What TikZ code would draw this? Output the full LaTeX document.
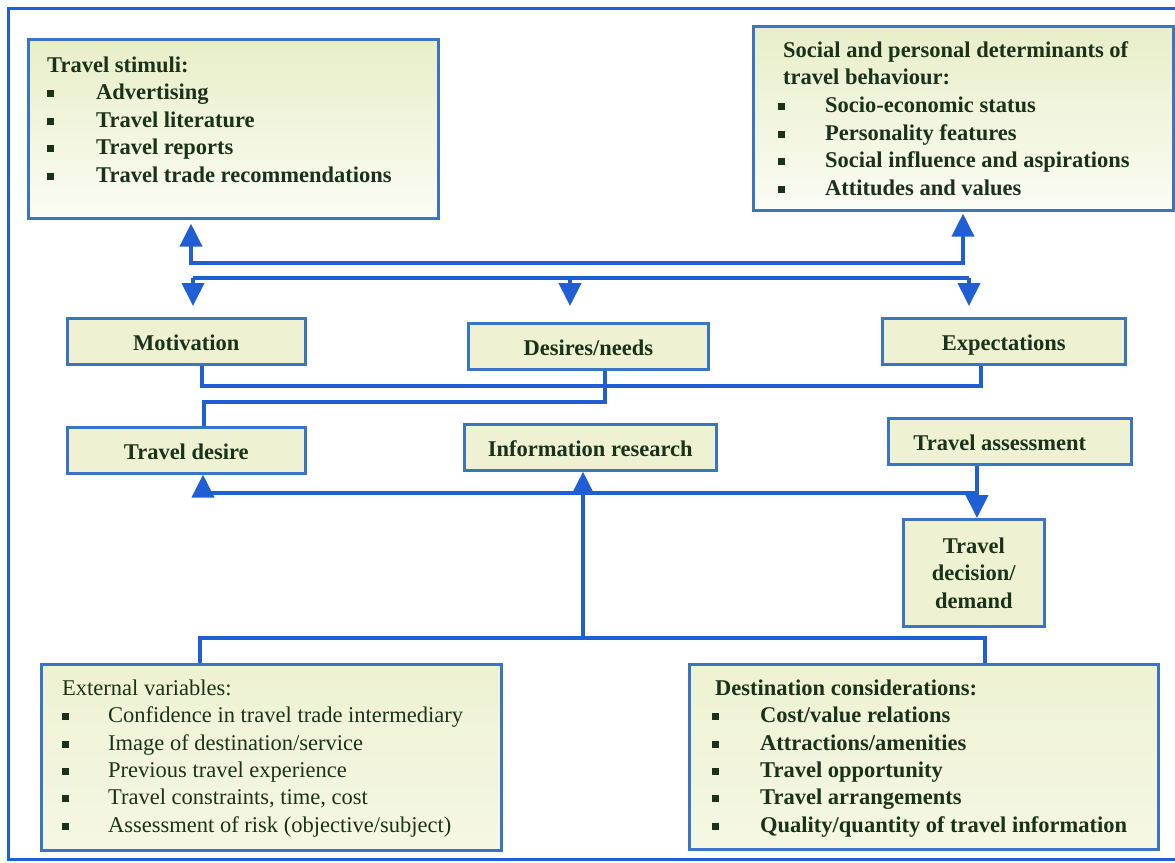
\documentclass[tikz,border=0pt]{standalone}
\usepackage{fontspec}
\setmainfont{Liberation Serif}
\usetikzlibrary{arrows.meta}
\definecolor{lineblue}{HTML}{1F5ED4}
\definecolor{boxblue}{HTML}{3A75C4}
\definecolor{boxfill}{HTML}{EEF2D2}
\definecolor{topfill}{HTML}{E8EEC8}
\definecolor{lowfill}{HTML}{FBFCF4}
\definecolor{txt}{HTML}{1A321A}
\newcommand{\bul}[1]{\makebox[#1][l]{\rule[2.5pt]{7pt}{7pt}}}
\tikzset{bigtri/.tip={Triangle[width=22pt,length=23pt]}}
\begin{document}
\begin{tikzpicture}[x=1pt,y=-1pt,
  box/.style={draw=boxblue,line width=2.6pt,fill=boxfill,inner sep=0pt,anchor=north west},
  listbox/.style={box,top color=topfill,bottom color=lowfill},
  lbl/.style={text=txt,font=\fontsize{22.5}{27.5}\selectfont\bfseries},
  one/.style={box,lbl,text height=19pt,text depth=0pt},
  listtxt/.style={text=txt,inner sep=0pt,align=left,anchor=north west},
  conn/.style={draw=lineblue,line width=4pt},
]
\useasboundingbox (0,0) rectangle (1175,862);
\draw[lineblue,line width=3pt] (1176,8) -- (8,8) -- (8,859) -- (1176,859);

% boxes
\node[listbox,minimum width=410pt,minimum height=179pt] (stim) at (27,38) {};
\node[listbox,minimum width=420pt,minimum height=184pt] (soc) at (752,25) {};
\node[one,minimum width=238pt,minimum height=46pt] (mot) at (66,317) {Motivation};
\node[one,minimum width=240pt,minimum height=46pt] (des) at (467,322) {Desires/needs};
\node[one,minimum width=243pt,minimum height=46pt] (exp) at (881,317) {Expectations};
\node[one,minimum width=238pt,minimum height=46pt] (td) at (66,426) {Travel desire};
\node[one,minimum width=252pt,minimum height=46pt] (ir) at (463,423) {Information research};
\node[one,minimum width=243pt,minimum height=46pt] (ta) at (887,417) {\hspace*{-20pt}Travel assessment};
\node[box,lbl,align=center,minimum width=141pt,minimum height=107pt] (dec) at (902,518) {Travel\\decision/\\demand};
\node[listbox,top color=boxfill,bottom color=boxfill!60!white,minimum width=460pt,minimum height=186pt] (ext) at (40,663) {};
\node[listbox,top color=boxfill,bottom color=boxfill!60!white,minimum width=469pt,minimum height=185pt] (dest) at (688,663) {};

% list texts
\node[listtxt,font=\fontsize{22.5}{27.5}\selectfont\bfseries] (stimT) at (47,52)
  {\rule{0pt}{20pt}Travel stimuli:\\
   \bul{49pt}Advertising\\
   \bul{49pt}Travel literature\\
   \bul{49pt}Travel reports\\
   \bul{49pt}Travel trade recommendations};
\node[listtxt,font=\fontsize{22.5}{27.6}\selectfont\bfseries] (socT) at (778,37)
  {\rule{0pt}{20pt}\hspace*{5pt}Social and personal determinants of\\
   \hspace*{5pt}travel behaviour:\\
   \bul{47pt}Socio-economic status\\
   \bul{47pt}Personality features\\
   \bul{47pt}Social influence and aspirations\\
   \bul{47pt}Attitudes and values};
\node[listtxt,font=\fontsize{22.5}{27.4}\selectfont] (extT) at (62,675)
  {\rule{0pt}{20pt}External variables:\\
   \bul{46pt}Confidence in travel trade intermediary\\
   \bul{46pt}Image of destination/service\\
   \bul{46pt}Previous travel experience\\
   \bul{46pt}Travel constraints, time, cost\\
   \bul{46pt}Assessment of risk (objective/subject)};
\node[listtxt,font=\fontsize{22.5}{27.4}\selectfont\bfseries] (destT) at (712,675)
  {\rule{0pt}{20pt}\hspace*{3pt}Destination considerations:\\
   \bul{48pt}Cost/value relations\\
   \bul{48pt}Attractions/amenities\\
   \bul{48pt}Travel opportunity\\
   \bul{48pt}Travel arrangements\\
   \bul{48pt}Quality/quantity of travel information};

% top connectors
\coordinate (uL) at (191,263);
\coordinate (uR) at (963,263);
\draw[conn,bigtri-bigtri,shorten <=4pt,shorten >=2pt] (uL |- stim.south) -- (uL) -- (uR) -- (uR |- soc.south);
\coordinate (dL) at (193,278);
\coordinate (dM) at (570,278);
\coordinate (dR) at (969,278);
\draw[conn] (dL) -- (dR);
\draw[conn,-bigtri,shorten >=11pt] (dL) -- (dL |- mot.north);
\draw[conn,-bigtri,shorten >=16pt] (dM) -- (dM |- des.north);
\draw[conn,-bigtri,shorten >=11pt] (dR) -- (dR |- exp.north);

% middle connectors
\coordinate (m1) at (202,386);
\coordinate (m2) at (981,386);
\draw[conn] (m1 |- mot.south) -- (m1) -- (m2) -- (m2 |- exp.south);
\coordinate (n1) at (605,402);
\coordinate (n2) at (204,402);
\draw[conn] (n1 |- des.south) -- (n1) -- (n2) -- (n2 |- td.north);

% lower connectors
\coordinate (b1) at (203,493);
\coordinate (b2) at (977,493);
\draw[conn] (b1) -- (b2);
\draw[conn,-bigtri] (b1) -- (b1 |- td.south);
\draw[conn,-bigtri] (ta.south -| b2) -- (b2 |- dec.north);
\coordinate (c1) at (200,638);
\coordinate (cM) at (583,638);
\coordinate (c2) at (985,638);
\draw[conn,-bigtri] (cM) -- (cM |- ir.south);
\draw[conn] (c1 |- ext.north) -- (c1) -- (c2) -- (c2 |- dest.north);
\end{tikzpicture}
\end{document}
